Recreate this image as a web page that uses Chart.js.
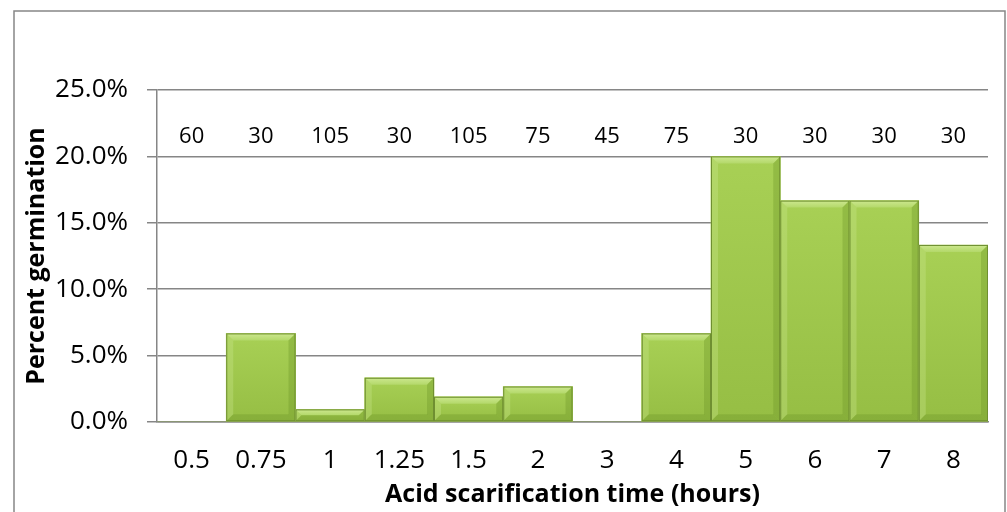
<!DOCTYPE html>
<html>
<head>
<meta charset="utf-8">
<script src="https://cdn.jsdelivr.net/npm/chart.js@4.4.1/dist/chart.umd.min.js"></script>
<style>
  html, body { margin: 0; padding: 0; background: #fff; }
  #wrap { width: 1007px; height: 512px; position: relative; }
</style>
</head>
<body>
<div id="wrap"><canvas id="chart"></canvas></div>
<script>
// Acid scarification times (hours) and germination percentage per treatment.
const categories = ['0.5', '0.75', '1', '1.25', '1.5', '2', '3', '4', '5', '6', '7', '8'];
const germination = [0, 6.67, 0.95, 3.33, 1.9, 2.67, 0, 6.67, 20, 16.67, 16.67, 13.33];
// Number of seeds tested per treatment (printed above the bars).
const seedCounts = [60, 30, 105, 30, 105, 75, 45, 75, 30, 30, 30, 30];
const countLevel = 21.5; // y value (percent) where the counts sit
const yTicks = [0, 5, 10, 15, 20, 25];

const FONT = "'Open Sans', 'DejaVu Sans', sans-serif";
const GRID = '#868686';

// White page + the thin grey frame Excel puts round the chart.
const frame = {
    id: 'frame',
    beforeDraw(chart) {
        const { ctx } = chart;
        ctx.save();
        ctx.fillStyle = '#fff';
        ctx.fillRect(0, 0, chart.width, chart.height);
        ctx.strokeStyle = GRID;
        ctx.lineWidth = 1.5;
        ctx.strokeRect(14, 11, chart.width - 16, chart.height + 20);
        ctx.restore();
    },
};

// Gradient + bevel look on top of the plain bars, using the bar elements' own geometry.
const bevel = {
    id: 'bevel',
    afterDatasetsDraw(chart) {
        const { ctx } = chart;
        const meta = chart.getDatasetMeta(0);
        ctx.save();
        meta.data.forEach((bar) => {
            const { x, y, base, width } = bar.getProps(['x', 'y', 'base', 'width'], true);
            const h = base - y;
            if (h <= 0.5) {
                return;
            }
            const l = x - width / 2;
            const r = x + width / 2;
            const b = Math.min(7, h / 2);

            const body = ctx.createLinearGradient(0, y, 0, base);
            body.addColorStop(0, '#a8d055');
            body.addColorStop(1, '#96be44');
            ctx.fillStyle = body;
            ctx.fillRect(l, y, width, h);

            // top facet (light)
            const top = ctx.createLinearGradient(0, y, 0, y + b);
            top.addColorStop(0, '#cde88f');
            top.addColorStop(1, '#b3d86a');
            ctx.fillStyle = top;
            ctx.beginPath();
            ctx.moveTo(l, y); ctx.lineTo(r, y); ctx.lineTo(r - b, y + b); ctx.lineTo(l + b, y + b);
            ctx.closePath(); ctx.fill();
            // left facet
            ctx.fillStyle = 'rgba(200,230,140,0.35)';
            ctx.beginPath();
            ctx.moveTo(l, y); ctx.lineTo(l + b, y + b); ctx.lineTo(l + b, base - b); ctx.lineTo(l, base);
            ctx.closePath(); ctx.fill();
            // right facet (dark)
            ctx.fillStyle = 'rgba(110,150,40,0.35)';
            ctx.beginPath();
            ctx.moveTo(r, y); ctx.lineTo(r - b, y + b); ctx.lineTo(r - b, base - b); ctx.lineTo(r, base);
            ctx.closePath(); ctx.fill();
            // bottom facet (dark)
            ctx.fillStyle = 'rgba(110,150,40,0.35)';
            ctx.beginPath();
            ctx.moveTo(l, base); ctx.lineTo(l + b, base - b); ctx.lineTo(r - b, base - b); ctx.lineTo(r, base);
            ctx.closePath(); ctx.fill();

            ctx.strokeStyle = '#6f8f31';
            ctx.lineWidth = 1;
            ctx.strokeRect(l + 0.5, y + 0.5, width - 1, h - 1);
        });
        ctx.restore();
    },
};

// Seed counts written across the top of the plot, one per category.
const counts = {
    id: 'counts',
    afterDatasetsDraw(chart) {
        const { ctx, scales } = chart;
        ctx.save();
        ctx.font = `22px ${FONT}`;
        ctx.fillStyle = '#000';
        ctx.textAlign = 'center';
        ctx.textBaseline = 'middle';
        const yPix = scales.y.getPixelForValue(countLevel);
        seedCounts.forEach((n, i) => {
            ctx.fillText(String(n), scales.x.getPixelForValue(i), yPix);
        });
        ctx.restore();
    },
};

new Chart(document.getElementById('chart'), {
    type: 'bar',
    data: {
        labels: categories,
        datasets: [{
            data: germination,
            backgroundColor: '#9dc544',
            borderWidth: 0,
            barPercentage: 1,
            categoryPercentage: 1,
        }],
    },
    options: {
        responsive: true,
        maintainAspectRatio: false,
        animation: false,
        events: [],
        layout: { padding: { top: 90, right: 19, bottom: 0, left: 0 } },
        plugins: { legend: { display: false }, tooltip: { enabled: false } },
        scales: {
            x: {
                grid: { display: false, drawTicks: false },
                border: { display: true, color: GRID, width: 1.5 },
                ticks: { color: '#000', font: { family: FONT, size: 26 }, padding: 23, maxRotation: 0, autoSkip: false },
                title: { display: true, text: 'Acid scarification time (hours)', color: '#000', font: { family: FONT, size: 25, weight: 'bold' }, padding: { top: 0, bottom: 2 } },
                afterFit: (s) => { s.height = 90; },
            },
            y: {
                min: 0,
                max: 25,
                afterBuildTicks: (s) => { s.ticks = yTicks.map((v) => ({ value: v })); },
                grid: { color: GRID, lineWidth: 1.5, tickLength: 10, drawTicks: true },
                border: { display: true, color: GRID, width: 1.5 },
                ticks: { color: '#000', font: { family: FONT, size: 26 }, padding: 19, callback: (v) => v.toFixed(1) + '%' },
                title: { display: true, text: 'Percent germination', color: '#000', font: { family: FONT, size: 25, weight: 'bold' }, padding: { top: 22, bottom: 0 } },
                afterFit: (s) => { s.width = 157; },
            },
        },
    },
    plugins: [frame, bevel, counts],
});
</script>
</body>
</html>
